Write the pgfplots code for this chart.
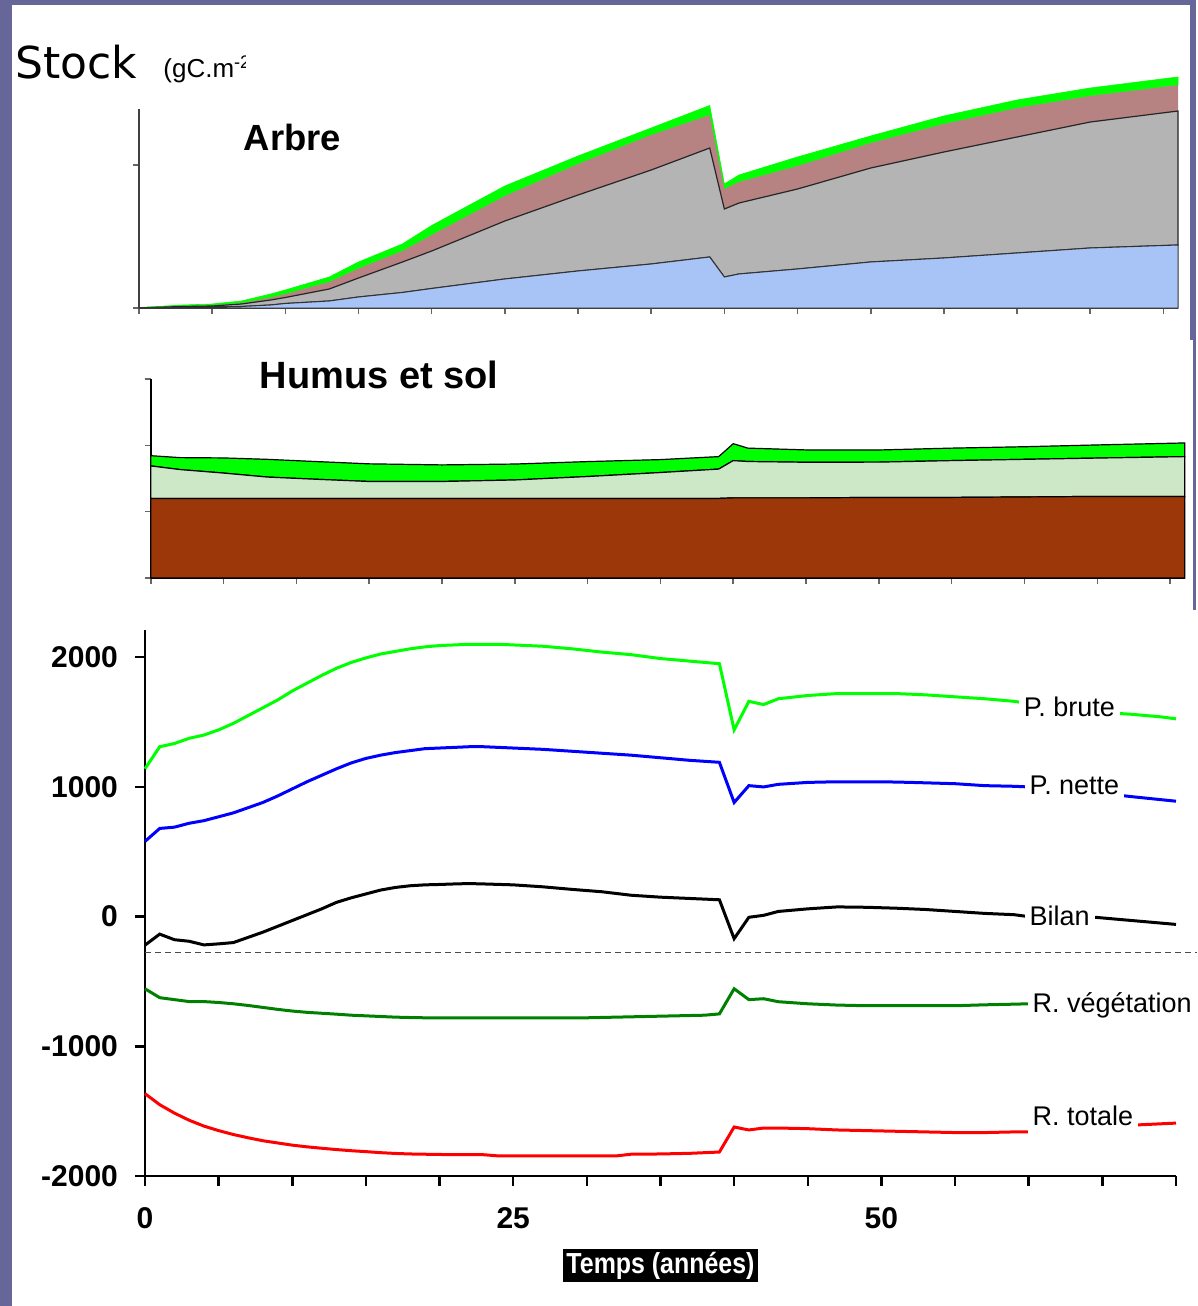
\documentclass[border=0pt]{standalone}
\usepackage{fontspec}
\setmainfont{Liberation Sans}
\newfontfamily\stockfont{DejaVu Sans}
\usepackage{graphicx}
\usepackage{pgfplots}
\usepackage{pgfplotstable}
\pgfplotsset{compat=1.18}
\definecolor{slide}{RGB}{102,102,153}
\definecolor{vivid}{RGB}{0,255,0}
\definecolor{dkgreen}{RGB}{0,128,0}
\definecolor{bluefill}{RGB}{168,196,247}
\definecolor{grayfill}{RGB}{180,180,180}
\definecolor{hatchfill}{RGB}{182,130,130}
\definecolor{brownfill}{RGB}{155,55,8}
\definecolor{palegreen}{RGB}{204,232,198}

\pgfplotstableread{
x blue gray hatch green
0 0 10 10 15
3 35 70 35 70
5 70 70 35 105
7 105 175 70 140
9 210 350 175 245
10 315 420 245 280
13 490 840 490 350
15 770 1330 665 455
18 1085 2135 770 490
20 1365 2625 1120 665
25 2030 4060 1750 700
30 2590 5320 2170 560
35 3080 6580 2450 490
39 3570 7630 2310 665
40 2170 4760 1400 350
41 2380 4970 1470 490
45 2730 5600 1610 630
50 3220 6580 1750 490
55 3500 7420 1960 560
60 3850 8120 2030 560
65 4200 8820 1820 560
71 4410 9380 1820 560
}\arbre

\pgfplotstableread{
x brown hatch green
0 6000 2450 770
2 6000 2175 900
5 6000 1910 1140
8 6000 1610 1335
11 6000 1460 1335
15 6000 1275 1330
20 6000 1275 1250
25 6000 1390 1200
30 6000 1650 1125
35 6000 1950 975
39 6000 2210 940
40 6040 2810 1275
41 6040 2740 1010
45 6040 2685 930
50 6075 2660 915
55 6075 2775 940
60 6110 2835 950
65 6150 2890 990
71 6150 3000 1030
}\humus

\begin{document}
\begin{tikzpicture}
% slide background
\fill[slide] (0pt,0pt) rectangle (598pt,-653pt);
\fill[white] (6pt,-2.5pt) rectangle (595pt,-170pt);
\fill[white] (6pt,-170pt) rectangle (596.5pt,-305pt);
\fill[white] (6pt,-305pt) rectangle (598pt,-653pt);

% title Stock
\node[anchor=base west, inner sep=0pt, font=\stockfont\fontsize{22}{22}\selectfont] at (7.5pt,-39pt) {Stock};
\begin{scope}
\clip (70pt,-10pt) rectangle (122.5pt,-50pt);
\node[anchor=base west, inner sep=0pt, font=\fontsize{13}{13}\selectfont] at (81.5pt,-38.5pt) {(gC.m\textsuperscript{-2})};
\end{scope}

% ---------- Arbre ----------
\begin{axis}[
  at={(69.5pt,-154pt)}, anchor=south west,
  scale only axis, width=519.5pt, height=99.5pt,
  xmin=0, xmax=71, ymin=0, ymax=13930,
  axis x line=bottom, axis y line=left,
  axis line style={-, line width=0.9pt, black!75},
  xtick={0,5,...,70}, xticklabels={},
  ytick={0,10000}, yticklabels={}, scaled y ticks=false,
  tick align=outside, major tick length=3pt,
  tick style={line width=0.8pt, black!60},
  stack plots=y, clip=false,
]
\addplot[fill=bluefill, draw=black!80, line width=0.5pt] table[x=x,y=blue] {\arbre} \closedcycle;
\addplot[fill=grayfill, draw=black!85, line width=0.6pt] table[x=x,y=gray] {\arbre} \closedcycle;
\addplot[fill=hatchfill, draw=none] table[x=x,y=hatch] {\arbre} \closedcycle;
\addplot[fill=vivid, draw=vivid, line width=0.3pt] table[x=x,y=green] {\arbre} \closedcycle;
\end{axis}
\node[font=\bfseries\fontsize{18.2}{18.2}\selectfont, inner sep=0pt] at (146.25pt,-68.5pt) {Arbre};

% ---------- Humus et sol ----------
\begin{axis}[
  at={(75.35pt,-289pt)}, anchor=south west,
  scale only axis, width=517pt, height=99.5pt,
  xmin=0, xmax=71, ymin=0, ymax=15000,
  axis x line=bottom, axis y line=left,
  axis line style={-, line width=1pt, black},
  xtick={0,5,...,70}, xticklabels={},
  ytick={0,5000,10000,15000}, yticklabels={}, scaled y ticks=false,
  tick align=outside, major tick length=3pt,
  tick style={line width=0.8pt, black!60},
  stack plots=y, clip=false,
]
\addplot[fill=brownfill, draw=black, line width=0.6pt] table[x=x,y=brown] {\humus} \closedcycle;
\addplot[fill=palegreen, draw=black, line width=0.6pt] table[x=x,y=hatch] {\humus} \closedcycle;
\addplot[fill=vivid, draw=black, line width=0.6pt] table[x=x,y=green] {\humus} \closedcycle;
\end{axis}
\node[font=\bfseries\fontsize{19}{19}\selectfont, inner sep=0pt] at (189.5pt,-187.5pt) {Humus et sol};

% ---------- Flux ----------
\begin{axis}[
  at={(72.5pt,-588pt)}, anchor=south west,
  scale only axis, width=515.5pt, height=273pt,
  xmin=0, xmax=70, ymin=-2000, ymax=2210,
  axis x line=bottom, axis y line=left,
  axis line style={-, line width=1.25pt, black},
  xtick={0,5,...,70}, xticklabels={0,,,,,25,,,,,50,,,,},
  ytick={-2000,-1000,0,1000,2000}, yticklabels={-2000,-1000,0,1000,2000},
  tick align=outside, major tick length=5pt,
  tick style={line width=1.25pt, black},
  ticklabel style={font=\bfseries\fontsize{15}{15}\selectfont},
  yticklabel style={xshift=-5pt},
  xticklabel style={yshift=-7pt},
  clip=false,
]
\addplot[densely dashed, black!70, line width=0.6pt] coordinates {(0,-278) (71.4,-278)};
\addplot[vivid, line width=1.5pt] coordinates {
(0,1140) (1,1310) (2,1335) (3,1375) (4,1400) (5,1440) (6,1490) (7,1550) (8,1610) (9,1670)
(10,1740) (11,1800) (12,1860) (13,1915) (14,1960) (15,1995) (16,2025) (17,2045) (18,2065)
(19,2080) (20,2090) (21,2095) (22,2100) (24,2100) (25,2095) (27,2085) (29,2065) (31,2040)
(33,2020) (35,1990) (37,1970) (39,1950) (40,1440) (41,1660) (42,1635) (43,1680) (45,1705)
(47,1720) (49,1720) (51,1720) (53,1710) (55,1695) (57,1680) (59,1660) (62,1610) (65,1575)
(67,1560) (69,1540) (70,1525)};
\addplot[blue, line width=1.5pt] coordinates {
(0,580) (1,680) (2,690) (3,720) (4,740) (5,770) (6,800) (7,840) (8,880) (9,930) (10,985)
(11,1040) (12,1090) (13,1140) (14,1185) (15,1220) (16,1245) (17,1265) (18,1280) (19,1295)
(20,1300) (21,1305) (22,1310) (23,1310) (25,1300) (27,1290) (29,1275) (31,1260) (33,1245)
(35,1225) (37,1205) (39,1190) (40,880) (41,1010) (42,1000) (43,1020) (45,1035) (47,1040)
(50,1040) (52,1035) (55,1025) (57,1010) (59,1005) (60,1000) (62,980) (65,950) (67,925) (70,890)};
\addplot[black, line width=1.5pt] coordinates {
(0,-220) (1,-135) (2,-178) (3,-190) (4,-218) (5,-210) (6,-200) (7,-160) (8,-120) (9,-75)
(10,-30) (11,15) (12,60) (13,110) (14,145) (15,175) (16,205) (17,225) (18,238) (19,245)
(20,248) (21,252) (22,255) (23,252) (25,245) (27,230) (29,210) (31,192) (33,165) (35,150)
(37,140) (39,130) (40,-170) (41,-5) (42,10) (43,40) (45,60) (47,75) (49,72) (51,65) (53,55)
(55,40) (57,25) (59,15) (60,0) (62,-5) (64.5,-5) (67,-30) (69,-50) (70,-60)};
\addplot[dkgreen, line width=1.5pt] coordinates {
(0,-556) (1,-625) (2,-640) (3,-655) (4,-655) (5,-662) (6,-672) (7,-685) (8,-700) (9,-715)
(10,-728) (11,-738) (12,-745) (13,-752) (14,-760) (15,-765) (16,-770) (17,-775) (18,-778)
(19,-780) (20,-780) (25,-780) (30,-780) (32,-775) (34,-770) (36,-765) (38,-760) (39,-750)
(40,-556) (41,-640) (42,-633) (43,-656) (45,-672) (47,-682) (49,-687) (51,-687) (53,-687)
(55,-687) (57,-680) (59,-675) (60,-672) (65,-665) (70,-660)};
\addplot[red, line width=1.5pt] coordinates {
(0,-1365) (1,-1450) (2,-1515) (3,-1570) (4,-1615) (5,-1650) (6,-1680) (7,-1705) (8,-1728)
(9,-1745) (10,-1762) (11,-1775) (12,-1786) (13,-1796) (14,-1805) (15,-1812) (16,-1820)
(17,-1826) (18,-1830) (20,-1834) (23,-1836) (24,-1845) (32,-1845) (33,-1832) (35,-1830)
(37,-1825) (39,-1815) (40,-1622) (41,-1645) (42,-1630) (43,-1630) (45,-1635) (47,-1645)
(49,-1650) (51,-1655) (53,-1660) (55,-1665) (57,-1665) (59,-1660) (60,-1660) (63,-1625)
(66,-1612) (67,-1608) (70,-1592)};
\tikzset{lbl/.style={anchor=west, fill=white, inner xsep=2.5pt, inner ysep=4pt, font=\fontsize{13.5}{13.5}\selectfont}}
\node[lbl] at (axis cs:59.3,1614) {P. brute};
\node[lbl] at (axis cs:59.7,1012) {P. nette};
\node[lbl] at (axis cs:59.7,8) {Bilan};
\node[lbl] at (axis cs:59.9,-687) {R. végétation};
\node[lbl] at (axis cs:59.9,-1537) {R. totale};
\end{axis}
\node[fill=black, text=white, inner sep=1.5pt, font=\bfseries\fontsize{14.5}{14.5}\selectfont] at (330.25pt,-632.75pt) {\scalebox{0.86}[1]{Temps (années)}};
\end{tikzpicture}
\end{document}
